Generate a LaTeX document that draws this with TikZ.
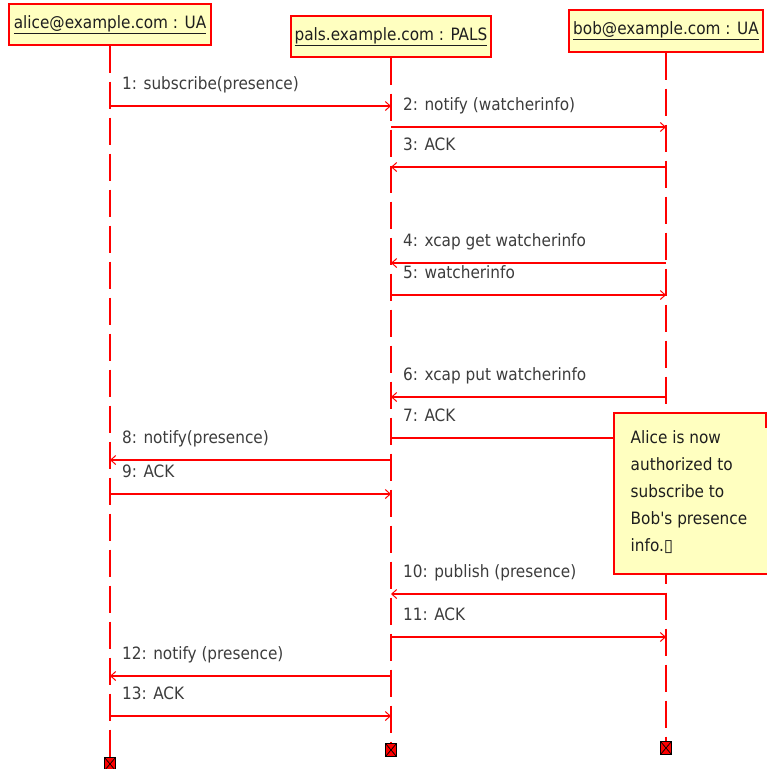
\documentclass[tikz,border=0pt]{standalone}
\usepackage{fontspec}
\setmainfont{DejaVu Sans Condensed}
\usetikzlibrary{arrows.meta}
\definecolor{umlred}{RGB}{255,0,0}
\definecolor{umlfill}{RGB}{255,255,192}
\definecolor{labelc}{RGB}{60,60,60}
\definecolor{headc}{RGB}{30,30,30}
\tikzset{
  headbox/.style={draw=umlred, fill=umlfill, line width=1.4pt, inner sep=0pt,
    text=headc, font=\fontsize{17}{20}\selectfont},
  lifeline/.style={umlred, line width=1.3pt, dash pattern=on 27pt off 9pt},
  msg/.style={umlred, line width=1.2pt, -{Straight Barb[length=5pt,width=9pt,line width=1pt]}},
  msglabel/.style={anchor=base west, inner sep=0pt, text=labelc, font=\fontsize{17}{20}\selectfont},
  endmark/.style={draw=black, fill=umlred, line width=0.8pt, minimum width=11pt, minimum height=13pt, inner sep=0pt,
    path picture={\draw[black, line width=0.7pt] (path picture bounding box.north west) -- (path picture bounding box.south east)
      (path picture bounding box.north east) -- (path picture bounding box.south west);}},
  notetext/.style={anchor=north west, inner sep=0pt, text=headc, align=left,
    font=\fontsize{17}{27}\selectfont},
}
\begin{document}
\begin{tikzpicture}[x=1pt,y=-1pt]
\useasboundingbox (0,0) rectangle (767,769);
% heads
\node[headbox, minimum width=202pt, minimum height=41pt] (alice) at (110,24.5) {\underline{alice@example.com : UA}};
\node[headbox, minimum width=200pt, minimum height=41pt] (pals) at (391,36.5) {\underline{pals.example.com : PALS}};
\node[headbox, minimum width=194pt, minimum height=42pt] (bob) at (666,31) {\underline{bob@example.com : UA}};
% end markers
\node[endmark] (aX) at (110,764) {};
\node[endmark] (pX) at (391,750) {};
\node[endmark] (bX) at (666,748) {};
% lifelines
\draw[lifeline] (alice.south) -- (aX.north);
\draw[lifeline] (pals.south) -- (pX.north);
\draw[lifeline] (bob.south) -- (bX.north);
% coordinates for message ends
\foreach \n/\y in {1/106,2/127,3/167,4/263,5/295,6/397,7/438,8/460,9/494,10/594,11/637,12/676,13/716}{
  \coordinate (a\n) at (alice.center |- 0,\y);
  \coordinate (p\n) at (pals.center |- 0,\y);
  \coordinate (b\n) at (bob.center |- 0,\y);
}
% messages
\draw[msg] (a1) -- (p1);
\node[msglabel] (l1) at (122,89) {1: subscribe(presence)};
\draw[msg] (p2) -- (b2);
\node[msglabel] (l2) at (403,110) {2: notify (watcherinfo)};
\draw[msg] (b3) -- (p3);
\node[msglabel] (l3) at (403,150) {3: ACK};
\draw[msg] (b4) -- (p4);
\node[msglabel] (l4) at (403,246) {4: xcap get watcherinfo};
\draw[msg] (p5) -- (b5);
\node[msglabel] (l5) at (403,278) {5: watcherinfo};
\draw[msg] (b6) -- (p6);
\node[msglabel] (l6) at (403,380) {6: xcap put watcherinfo};
\draw[msg] (p7) -- (b7);
\node[msglabel] (l7) at (403,421) {7: ACK};
\draw[msg] (p8) -- (a8);
\node[msglabel] (l8) at (122,443) {8: notify(presence)};
\draw[msg] (a9) -- (p9);
\node[msglabel] (l9) at (122,477) {9: ACK};
\draw[msg] (b10) -- (p10);
\node[msglabel] (l10) at (403,577) {10: publish (presence)};
\draw[msg] (p11) -- (b11);
\node[msglabel] (l11) at (403,620) {11: ACK};
\draw[msg] (p12) -- (a12);
\node[msglabel] (l12) at (122,659) {12: notify (presence)};
\draw[msg] (a13) -- (p13);
\node[msglabel] (l13) at (122,699) {13: ACK};
% note
\fill[umlfill] (614,413) rectangle (767,574);
\draw[umlred, line width=1.4pt] (766,428) -- (766,413) -- (614,413) -- (614,574) -- (767,574);
\node[notetext] (note) at (630.5,430) {Alice is now\\authorized to\\subscribe to\\Bob\textquotesingle s presence\\info.{\fontspec{DejaVu Sans}▯}};
\end{tikzpicture}
\end{document}
